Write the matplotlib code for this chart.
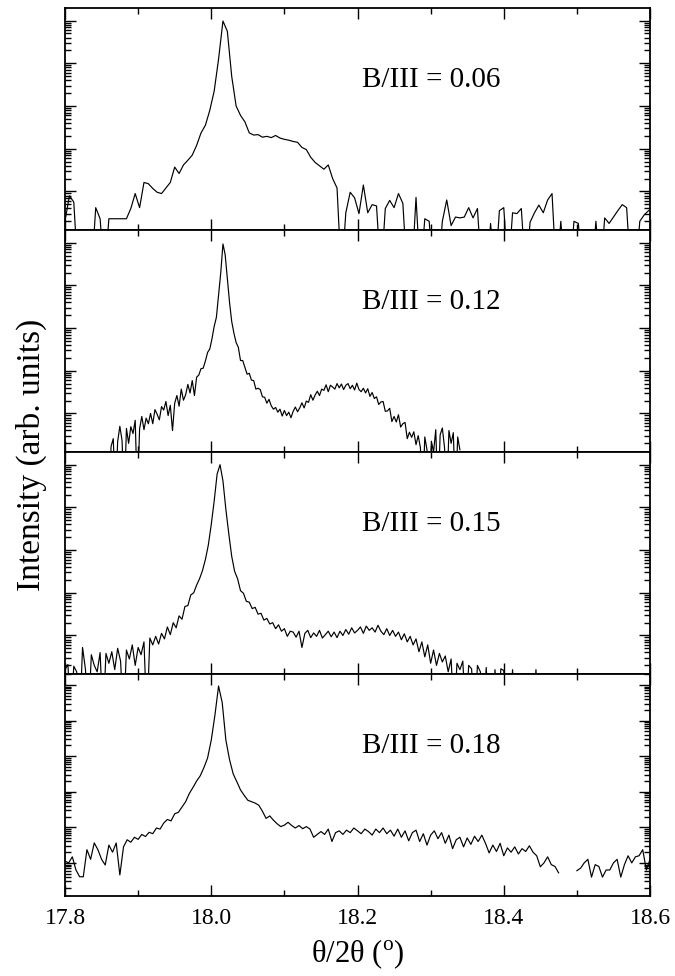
"""
XRD theta/2theta scans for different B/III ratios
"""

import numpy as np
import matplotlib
matplotlib.use('Agg')
import matplotlib.pyplot as plt
from matplotlib.ticker import MultipleLocator, LogLocator, NullFormatter, FormatStrFormatter

#---------------------------------------------------------------------------------------------------
# Data (log10 of intensity, arb. units)
#---------------------------------------------------------------------------------------------------

nan = np.nan

# B/III = 0.06
start_006, step_006 = 17.800, 0.006
logi_006 = [0.3, 0.9, 0.75, -1, -1, -1, -1, 0.62, 0.36, -1,
            0.36, 0.36, 0.36, 0.36, 0.36, 0.6, 0.95, 0.62, 1.21, 1.18,
            1.07, 0.98, 0.95, 1.08, 1.21, 1.57, 1.42, 1.62, 1.73, 1.85,
            2.08, 2.37, 2.55, 2.9, 3.35, 4.1, 4.99, 4.75, 3.69, 3.0,
            2.78, 2.63, 2.37, 2.32, 2.33, 2.27, 2.29, 2.26, 2.31, 2.25,
            2.22, 2.2, 2.17, 2.15, 2.03, 1.98, 1.8, 1.68, 1.6, 1.52,
            1.62, 1.3, 1.08, -1, 0.5, 0.98, 0.85, 0.48, 1.15, 0.5,
            0.69, 0.66, -1, 0.6, 0.79, 0.62, 0.95, 0.72, -1, -1,
            0.86, -1, 0.36, 0.3, -1, -1, 0.3, 0.8, 0.2, 0.4,
            0.38, 0.4, 0.62, 0.38, 0.6, -1, -1, 0.25, -1, 0.55,
            0.62, -1, 0.5, 0.48, 0.6, -1, 0.28, 0.5, 0.68, 0.5,
            0.8, 0.95, -1, 0.3, -1, -1, 0.3, 0.25, -1, -1,
            -1, 0.3, -1, 0.38, 0.25, 0.4, 0.55, 0.69, 0.62, -1,
            -1, 0.3, 0.45, 0.55]

# B/III = 0.12
start_012, step_012 = 17.860, 0.003
logi_012 = [-1, 0.23, 0.41, -1, 0.34, 0.7, 0.37, -1, 0.65, 0.3,
            0.69, 0.53, 0.84, -1, 0.64, 0.93, 0.62, 0.89, 0.76, 1.0,
            0.76, 1.09, 0.98, 0.85, 1.16, 1.08, 1.28, 0.95, 1.19, 0.6,
            1.24, 1.42, 1.17, 1.57, 1.31, 1.44, 1.68, 1.48, 1.77, 1.42,
            1.85, 1.9, 2.05, 2.06, 2.23, 2.43, 2.51, 2.75, 3.04, 3.25,
            3.78, 4.3, 4.97, 4.72, 4.15, 3.6, 3.15, 2.88, 2.66, 2.55,
            2.24, 2.24, 2.08, 1.92, 1.94, 1.78, 1.77, 1.57, 1.59, 1.56,
            1.39, 1.38, 1.24, 1.33, 1.18, 1.1, 1.14, 1.03, 1.1, 0.94,
            1.07, 0.95, 1.03, 0.9, 1.05, 1.15, 1.04, 1.13, 1.25, 1.13,
            1.29, 1.26, 1.44, 1.31, 1.43, 1.52, 1.42, 1.57, 1.54, 1.67,
            1.51, 1.66, 1.62, 1.57, 1.7, 1.6, 1.69, 1.56, 1.66, 1.7,
            1.58, 1.66, 1.55, 1.71, 1.56, 1.51, 1.59, 1.48, 1.58, 1.4,
            1.49, 1.35, 1.39, 1.21, 1.27, 1.28, 1.05, 1.06, 1.12, 0.81,
            0.93, 0.8, 0.97, 0.68, 0.76, 0.79, 0.41, 0.56, 0.44, 0.57,
            0.27, 0.48, 0.2, -1, 0.45, 0.15, -1, 0.35, 0.1, 0.62,
            -1, 0.5, 0.66, 0.2, -1, 0.6, 0.3, 0.55, -1, 0.45,
            0.15]

# B/III = 0.15
start_015, step_015 = 17.800, 0.004
logi_015 = [0.2, 0.32, -1, 0.28, 0.15, -1, 0.72, 0.2, -1, 0.55,
            0.3, 0.15, 0.6, -1, 0.58, 0.35, 0.62, 0.2, 0.7, 0.4,
            -1, 0.66, 0.45, 0.78, 0.3, 0.72, 0.55, 0.85, -1, 0.94,
            0.78, 0.98, 0.8, 1.05, 0.92, 1.2, 1.02, 1.3, 1.18, 1.46,
            1.38, 1.68, 1.7, 1.95, 2.0, 2.18, 2.33, 2.52, 2.78, 3.12,
            3.6, 4.15, 4.78, 5.0, 4.62, 3.95, 3.38, 2.85, 2.5, 2.33,
            2.05, 1.99, 1.8, 1.78, 1.63, 1.66, 1.5, 1.52, 1.36, 1.4,
            1.27, 1.3, 1.16, 1.25, 1.1, 1.16, 0.98, 1.1, 1.08, 0.96,
            1.1, 0.72, 1.05, 1.12, 0.95, 1.06, 0.98, 1.12, 0.94, 1.02,
            1.1, 0.97, 1.08, 0.95, 1.1, 1.0, 1.14, 1.03, 1.18, 1.06,
            1.12, 1.2, 1.05, 1.22, 1.12, 1.18, 1.08, 1.24, 1.1, 1.02,
            1.16, 1.0, 1.12, 0.98, 1.08, 0.9, 1.04, 0.85, 0.98, 0.78,
            0.92, 0.62, 0.85, 0.5, 0.78, 0.35, 0.66, 0.3, 0.58, 0.38,
            0.52, 0.15, 0.45, -1, 0.35, 0.2, 0.4, -1, 0.3, 0.22,
            -1, 0.3, 0.15, -1, 0.25, -1, -1, 0.2, -1, 0.22,
            0.18, -1, -1, 0.2, -1, -1, -1, -1, -1, -1,
            -1, 0.2, -1]

# B/III = 0.18
start_018, step_018 = 17.800, 0.005
logi_018 = [0.05, 0.0, 0.17, -0.2, -0.39, -0.39, 0.37, 0.1, 0.56, 0.37,
            0.1, -0.06, 0.5, 0.3, 0.56, -0.34, 0.45, 0.65, 0.58, 0.72,
            0.66, 0.8, 0.74, 0.86, 0.82, 0.98, 0.95, 1.12, 1.22, 1.18,
            1.38, 1.42, 1.57, 1.72, 1.95, 2.12, 2.3, 2.45, 2.68, 2.95,
            3.45, 4.15, 4.97, 4.5, 3.45, 2.9, 2.5, 2.28, 2.05, 1.9,
            1.76, 1.72, 1.68, 1.62, 1.45, 1.25, 1.32, 1.2, 1.1, 1.02,
            1.06, 1.14, 1.05, 0.98, 1.05, 0.96, 1.02, 0.95, 0.72, 0.8,
            0.88, 0.8, 0.95, 0.6, 0.85, 0.9, 0.8, 0.92, 0.85, 0.98,
            0.9, 0.82, 0.95, 0.88, 0.78, 0.95, 0.85, 0.98, 0.82, 0.92,
            0.75, 0.95, 0.72, 0.9, 0.62, 0.85, 0.92, 0.6, 0.82, 0.5,
            0.78, 0.9, 0.68, 0.85, 0.55, 0.78, 0.4, 0.65, 0.72, 0.45,
            0.7, 0.52, 0.75, 0.6, 0.78, 0.55, 0.28, 0.5, 0.32, 0.55,
            0.2, 0.42, 0.3, 0.45, 0.25, 0.4, 0.32, 0.48, 0.3, 0.2,
            -0.11, 0.0, 0.17, -0.05, -0.1, -0.28, nan, nan, -0.25, nan,
            -0.22, -0.15, 0.0, 0.1, -0.4, -0.05, -0.1, -0.4, -0.2, -0.2,
            0.0, 0.1, -0.4, -0.05, 0.2, 0.0, 0.17, 0.2, 0.37, -0.2,
            0.1]

labels = ['B/III = 0.06', 'B/III = 0.12', 'B/III = 0.15', 'B/III = 0.18']
scans = [(start_006, step_006, logi_006),
         (start_012, step_012, logi_012),
         (start_015, step_015, logi_015),
         (start_018, step_018, logi_018)]

# y ranges (log10) for each panel
ylims = [(0.1, 5.3), (0.1, 5.3), (0.1, 5.3), (-0.93, 5.31)]

#---------------------------------------------------------------------------------------------------
# Plot
#---------------------------------------------------------------------------------------------------

plt.rcParams['font.family'] = ['Liberation Serif', 'DejaVu Serif']
plt.rcParams['mathtext.fontset'] = 'custom'
plt.rcParams['mathtext.rm'] = 'Liberation Serif'

fig, axes = plt.subplots(nrows=4, ncols=1, figsize=(6.75, 9.76), dpi=100, sharex=True)
plt.subplots_adjust(left=0.0963, right=0.963, top=0.992, bottom=0.082, hspace=0)

for ax, (x0, dx, logi), lab, yl in zip(axes, scans, labels, ylims):
    logi = np.array(logi)
    x = x0 + dx * np.arange(len(logi))
    ax.plot(x, 10.0 ** logi, color='k', lw=0.85)
    ax.set_yscale('log')
    ax.set_ylim(10.0 ** yl[0], 10.0 ** yl[1])
    ax.set_xlim(17.8, 18.6)

    ax.text(0.508, 0.675, lab, transform=ax.transAxes, fontsize=21, ha='left', va='center')

    ax.yaxis.set_major_locator(LogLocator(base=10, numticks=15))
    ax.yaxis.set_minor_locator(LogLocator(base=10, subs=np.arange(2, 10), numticks=15))
    ax.yaxis.set_major_formatter(NullFormatter())
    ax.yaxis.set_minor_formatter(NullFormatter())
    ax.xaxis.set_major_locator(MultipleLocator(0.2))
    ax.xaxis.set_minor_locator(MultipleLocator(0.1))

    ax.tick_params(which='both', direction='in', top=True, right=True, width=1.0)
    ax.tick_params(which='major', length=8)
    ax.tick_params(which='minor', length=4.5)
    ax.tick_params(axis='x', which='major', labelsize=17, pad=9)
    for s in ax.spines.values():
        s.set_linewidth(1.3)

axes[-1].xaxis.set_major_formatter(FormatStrFormatter('%.1f'))
axes[-1].set_xlabel(r'θ/2θ ($^{\mathrm{o}}$)', fontsize=22, labelpad=6)
fig.text(31 / 675, 1 - 455 / 976, 'Intensity (arb. units)', rotation=90, fontsize=24,
         ha='center', va='center')

plt.savefig('out.png', dpi=100)
plt.close()
